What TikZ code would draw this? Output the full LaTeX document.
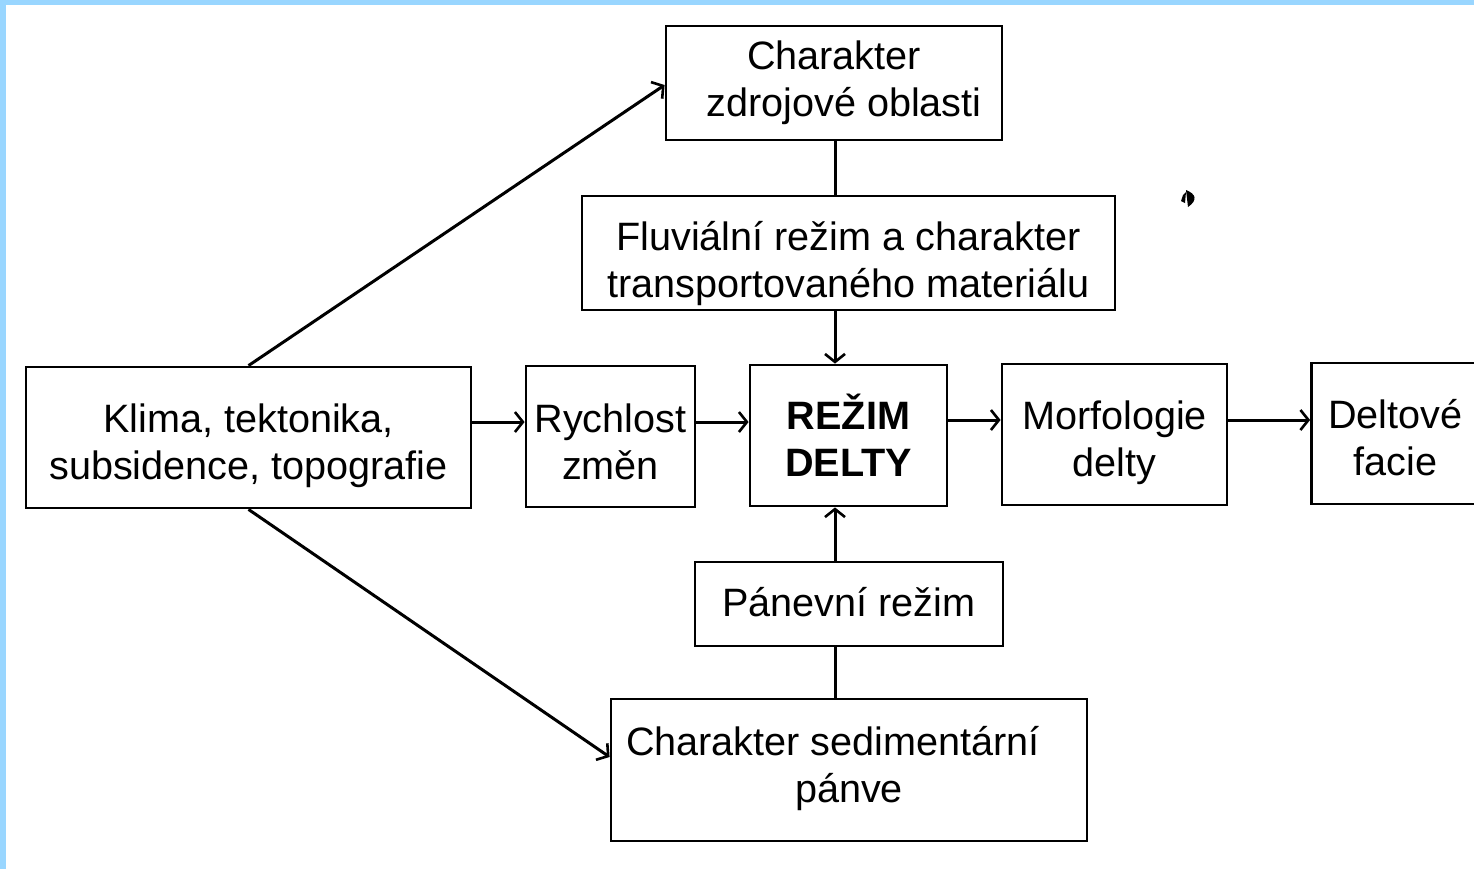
\documentclass[tikz,border=0pt]{standalone}
\usepackage{fontspec}
\setmainfont{Liberation Sans}
\usetikzlibrary{arrows.meta,calc}
\newcommand\boxtxt[2]{\raisebox{#1}[\height][\depth]{\begin{tabular}{@{}c@{}}#2\end{tabular}}}
\begin{document}
\begin{tikzpicture}[x=0.5pt,y=-0.5pt,
  box/.style={draw, line width=1.4pt, inner sep=0pt, align=center,
    font=\fontsize{19.8pt}{23.5pt}\selectfont},
  conn/.style={line width=1.5pt},
  arr/.style={conn, -{Straight Barb[length=4pt,width=10pt,line width=1.3pt]}}]
\useasboundingbox (0,0) rectangle (1474,869);
\fill[white] (0,0) rectangle (1474,869);
\fill[blue!40!cyan!40] (0,0) rectangle (1474,5);
\fill[blue!40!cyan!40] (0,0) rectangle (6,869);
% nodes
\node[box, minimum width=168pt, minimum height=57pt] (zdroj) at (834,83) {\boxtxt{-0.5pt}{Charakter\\ \hspace*{10pt}zdrojové oblasti}};
\node[box, minimum width=266.5pt, minimum height=57pt] (fluv) at (848.5,253) {\boxtxt{-6pt}{Fluviální režim a charakter\\transportovaného materiálu}};
\node[box, minimum width=222.5pt, minimum height=70.5pt] (klima) at (248.5,437.5) {\boxtxt{-4.5pt}{Klima, tektonika,\\subsidence, topografie}};
\node[box, minimum width=84.5pt, minimum height=70.5pt] (rych) at (610.5,436.5) {\boxtxt{-5pt}{Rychlost\\změn}};
\node[box, minimum width=98.5pt, minimum height=70.5pt] (rezim) at (848.5,435.5) {\boxtxt{-3.5pt}{\bfseries REŽIM\\\bfseries DELTY}};
\node[box, minimum width=112.5pt, minimum height=70.5pt] (morf) at (1114.5,434.5) {\boxtxt{-4.5pt}{Morfologie\\delty}};
\node[box, minimum width=84pt, minimum height=70.5pt] (facie) at (1395.5,433.5) {\boxtxt{-4.5pt}{Deltové\\facie}};
\node[box, minimum width=154pt, minimum height=42pt] (panev) at (849,604) {\boxtxt{-1.5pt}{Pánevní režim}};
\node[box, minimum width=238pt, minimum height=71pt] (sed) at (849,770) {\boxtxt{0pt}{Charakter sedimentární\hspace*{16pt}\\pánve}};
% helper coordinates
\coordinate (cx) at (835,0);
\coordinate (r1) at (0,422);
\coordinate (r2) at (0,420);
% connectors
\draw[arr] (klima.north) -- ([yshift=-1pt]zdroj.west);
\draw[arr] (klima.south) -- ([yshift=6.5pt]sed.west);
\draw[arr] (klima.east |- r1) -- (rych.west |- r1);
\draw[arr] (rych.east |- r1) -- (rezim.west |- r1);
\draw[arr] (rezim.east |- r2) -- (morf.west |- r2);
\draw[arr] (morf.east |- r2) -- (facie.west |- r2);
\draw[conn] (zdroj.south -| cx) -- (fluv.north -| cx);
\draw[arr] (fluv.south -| cx) -- (rezim.north -| cx);
\draw[arr] (panev.north -| cx) -- (rezim.south -| cx);
\draw[conn] (sed.north -| cx) -- (panev.south -| cx);
% small stray mark
\fill (1186,190) .. controls (1196,194) and (1198,200) .. (1188,207) -- cycle;
\fill (1183,195) -- (1186,192) -- (1185,203) -- (1181,201) -- cycle;
\end{tikzpicture}
\end{document}
